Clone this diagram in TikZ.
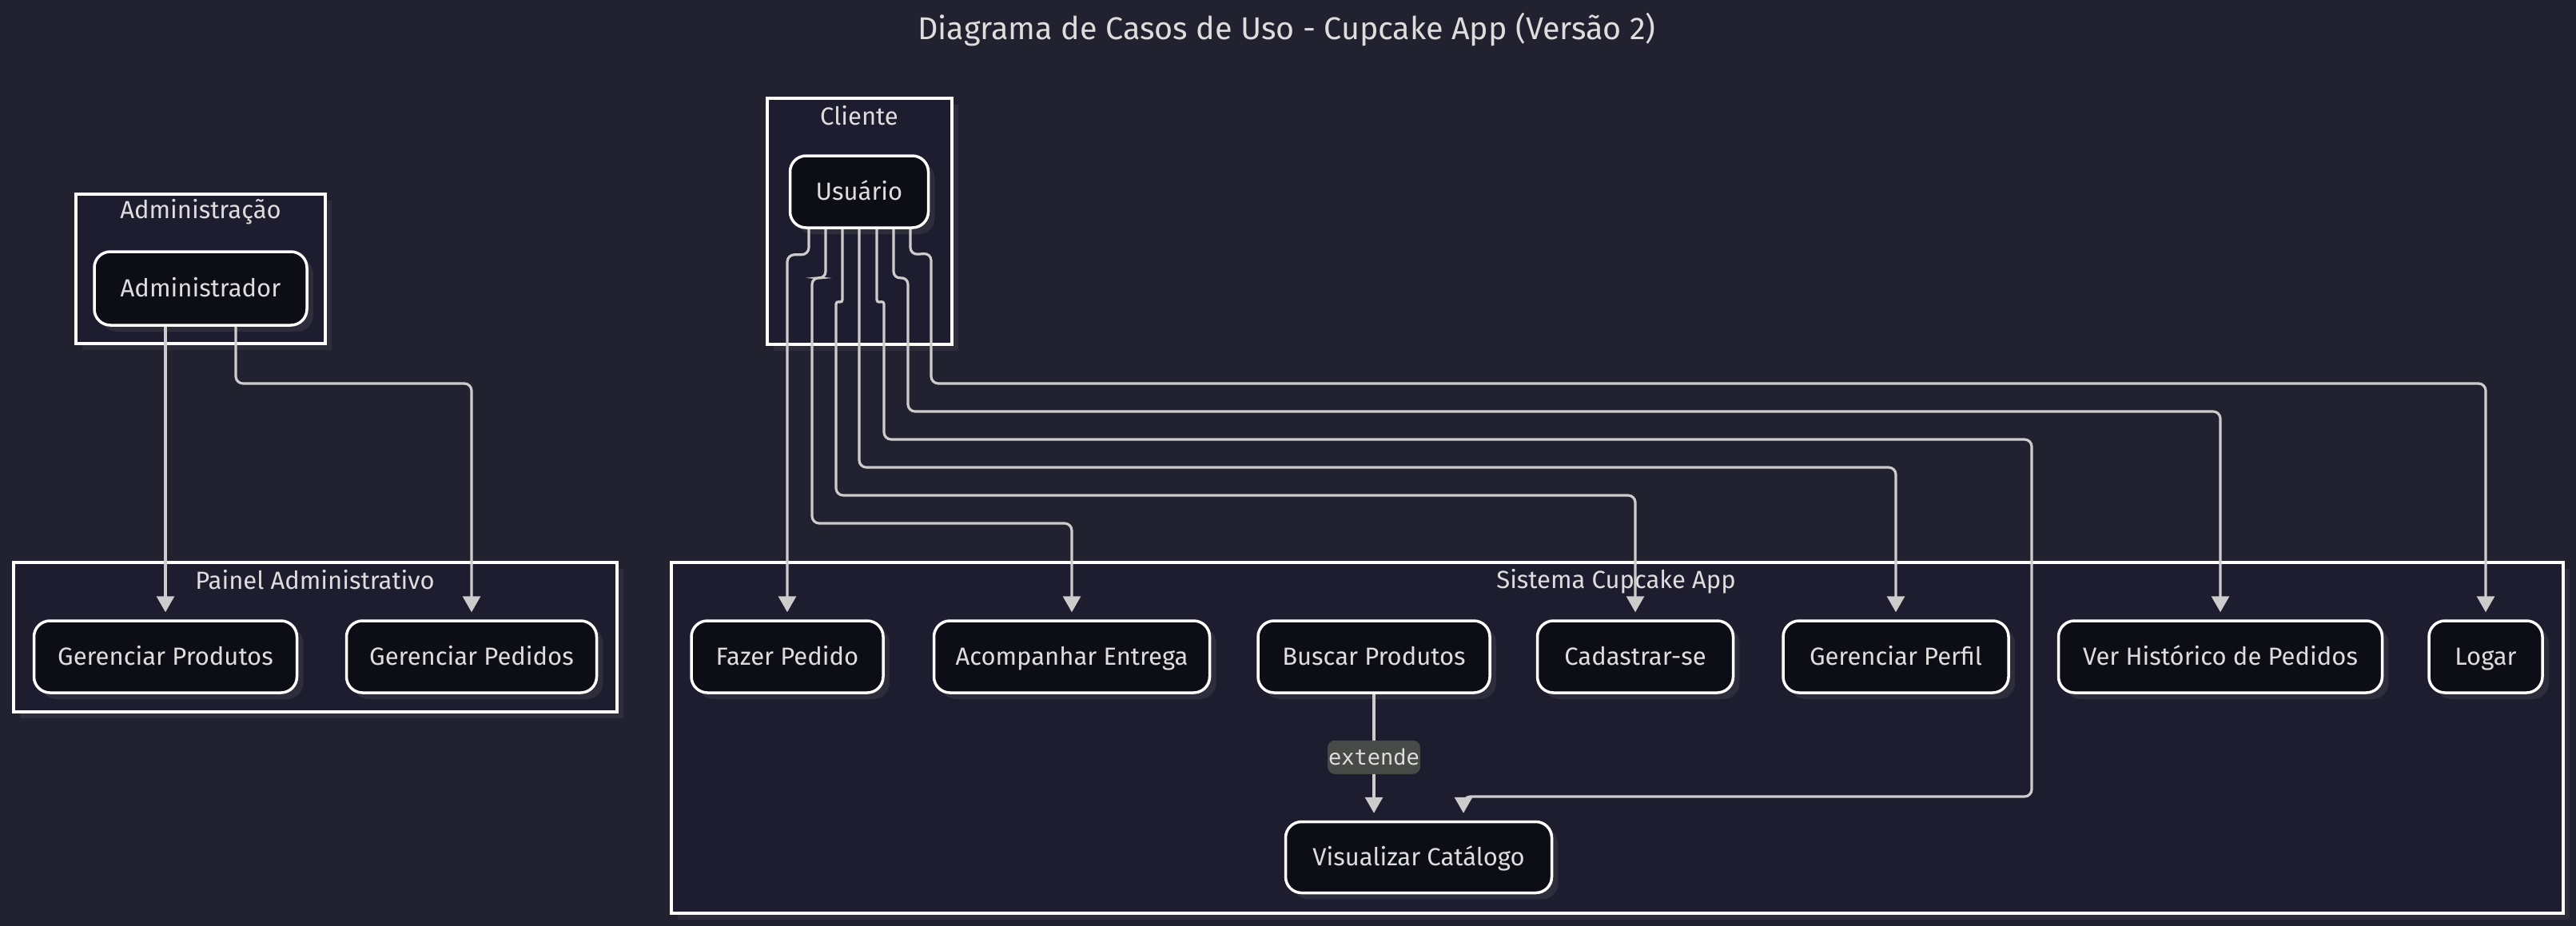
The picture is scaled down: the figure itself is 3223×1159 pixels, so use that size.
\documentclass[tikz,border=0pt]{standalone}
\usepackage{fontspec}
\setmainfont{Fira Sans}
\newfontfamily\monofont{DejaVu Sans Mono}
\usepackage{tikz}
\usetikzlibrary{arrows.meta,shadows}

\definecolor{bgc}{HTML}{22212F}
\definecolor{clusterc}{HTML}{1E1D2F}
\definecolor{nodec}{HTML}{0D0D15}
\definecolor{shadowc}{HTML}{2E2D3C}
\definecolor{linkc}{HTML}{CCCCCC}
\definecolor{textc}{HTML}{DDDDDD}
\definecolor{lblc}{HTML}{474A46}

\tikzset{
	usecase/.style={draw=white, line width=3.5pt, fill=nodec, rounded corners=20pt,
		minimum height=90pt, text height=21pt, text depth=0pt, text=textc, font=\fontsize{31}{36}\selectfont,
		drop shadow={shadow xshift=8pt, shadow yshift=-8pt, fill=shadowc, opacity=1}},
	cluster/.style={draw=white, line width=4pt, fill=clusterc,
		drop shadow={shadow xshift=8pt, shadow yshift=-8pt, fill=shadowc, opacity=1}},
	clusterlabel/.style={text=textc, font=\fontsize{31}{36}\selectfont},
	link/.style={draw=linkc, line width=3.2pt, rounded corners=9pt,
		-{Triangle[length=20pt, width=22pt]}, shorten >=9pt},
	lbl/.style={fill=lblc, text=textc, font=\monofont\fontsize{27}{32}\selectfont,
		inner xsep=1pt, minimum height=42pt}
}

\begin{document}
\begin{tikzpicture}[x=1pt, y=-1pt]
	\useasboundingbox (0,0) rectangle (3223,1159);
	\fill[bgc] (0,0) rectangle (3223,1159);
	\node[text=textc, font=\fontsize{39.5}{46}\selectfont] (title) at (1610,37) {Diagrama de Casos de Uso - Cupcake App (Versão 2)};
	%
	\draw[cluster] (95,243) rectangle (407,430);
	\node[clusterlabel] (admlabel) at (251,265) {Administração};
	\draw[cluster] (960,123) rectangle (1191,431);
	\node[clusterlabel] (clilabel) at (1075,145) {Cliente};
	\draw[cluster] (17,704) rectangle (772,891);
	\node[clusterlabel] (painellabel) at (394,726) {Painel Administrativo};
	\draw[cluster] (840,704) rectangle (3207,1143);
	\node[clusterlabel] (sistemalabel) at (2022,728) {Sistema Cupcake App};
	%
	\node[usecase, minimum width=266pt, minimum height=92pt] (admin) at (251,361) {Administrador};
	\node[usecase, minimum width=173pt] (user) at (1075,240) {Usuário};
	\node[usecase, minimum width=329pt] (gprod) at (207,822) {Gerenciar Produtos};
	\node[usecase, minimum width=313pt] (gped) at (590,822) {Gerenciar Pedidos};
	\node[usecase, minimum width=240pt] (fazer) at (985,822) {Fazer Pedido};
	\node[usecase, minimum width=345pt] (acomp) at (1341,822) {Acompanhar Entrega};
	\node[usecase, minimum width=290pt] (buscar) at (1719,822) {Buscar Produtos};
	\node[usecase, minimum width=245pt] (cadastro) at (2046,822) {Cadastrar-se};
	\node[usecase, minimum width=282pt] (perfil) at (2372,822) {Gerenciar Perfil};
	\node[usecase, minimum width=405pt] (historico) at (2778,822) {Ver Histórico de Pedidos};
	\node[usecase, minimum width=142pt] (logar) at (3110,822) {Logar};
	\node[usecase, minimum width=333pt, minimum height=89pt] (catalogo) at (1775,1073) {Visualizar Catálogo};
	%
	\draw[link] ([xshift=-44pt]admin.south) -- (gprod.north);
	\draw[link] ([xshift=44pt]admin.south) -- (295,480) -| (gped.north);
	\draw[link] ([xshift=-63pt]user.south) -- ++(0,32) -| (fazer.north);
	\draw[link] ([xshift=-42pt]user.south) -- ++(0,62) -- (1016,347) -- (1016,655) -| (acomp.north);
	\draw[link] ([xshift=-21pt]user.south) [rounded corners=3.5pt] -- ++(0,92) -- (1046,377) -- (1046,420)
		[rounded corners=9pt] -- (1046,620) -| (cadastro.north);
	\draw[link] (user.south) -- (1075,585) -| (perfil.north);
	\draw[link] ([xshift=22pt]user.south) [rounded corners=3.5pt] -- ++(0,92) -- (1106,377) -- (1106,420)
		[rounded corners=9pt] -- (1106,550) -- (2542,550) -- (2542,997) -| ([xshift=56pt]catalogo.north);
	\draw[link] ([xshift=43pt]user.south) -- ++(0,62) -- (1136,347) -- (1136,515) -| (historico.north);
	\draw[link] ([xshift=64pt]user.south) -- ++(0,32) -- (1165,317) -- (1165,480) -| (logar.north);
	\draw[link] (buscar.south) -- node[lbl] (ext) {extende} ([xshift=-56pt]catalogo.north);
\end{tikzpicture}
\end{document}
